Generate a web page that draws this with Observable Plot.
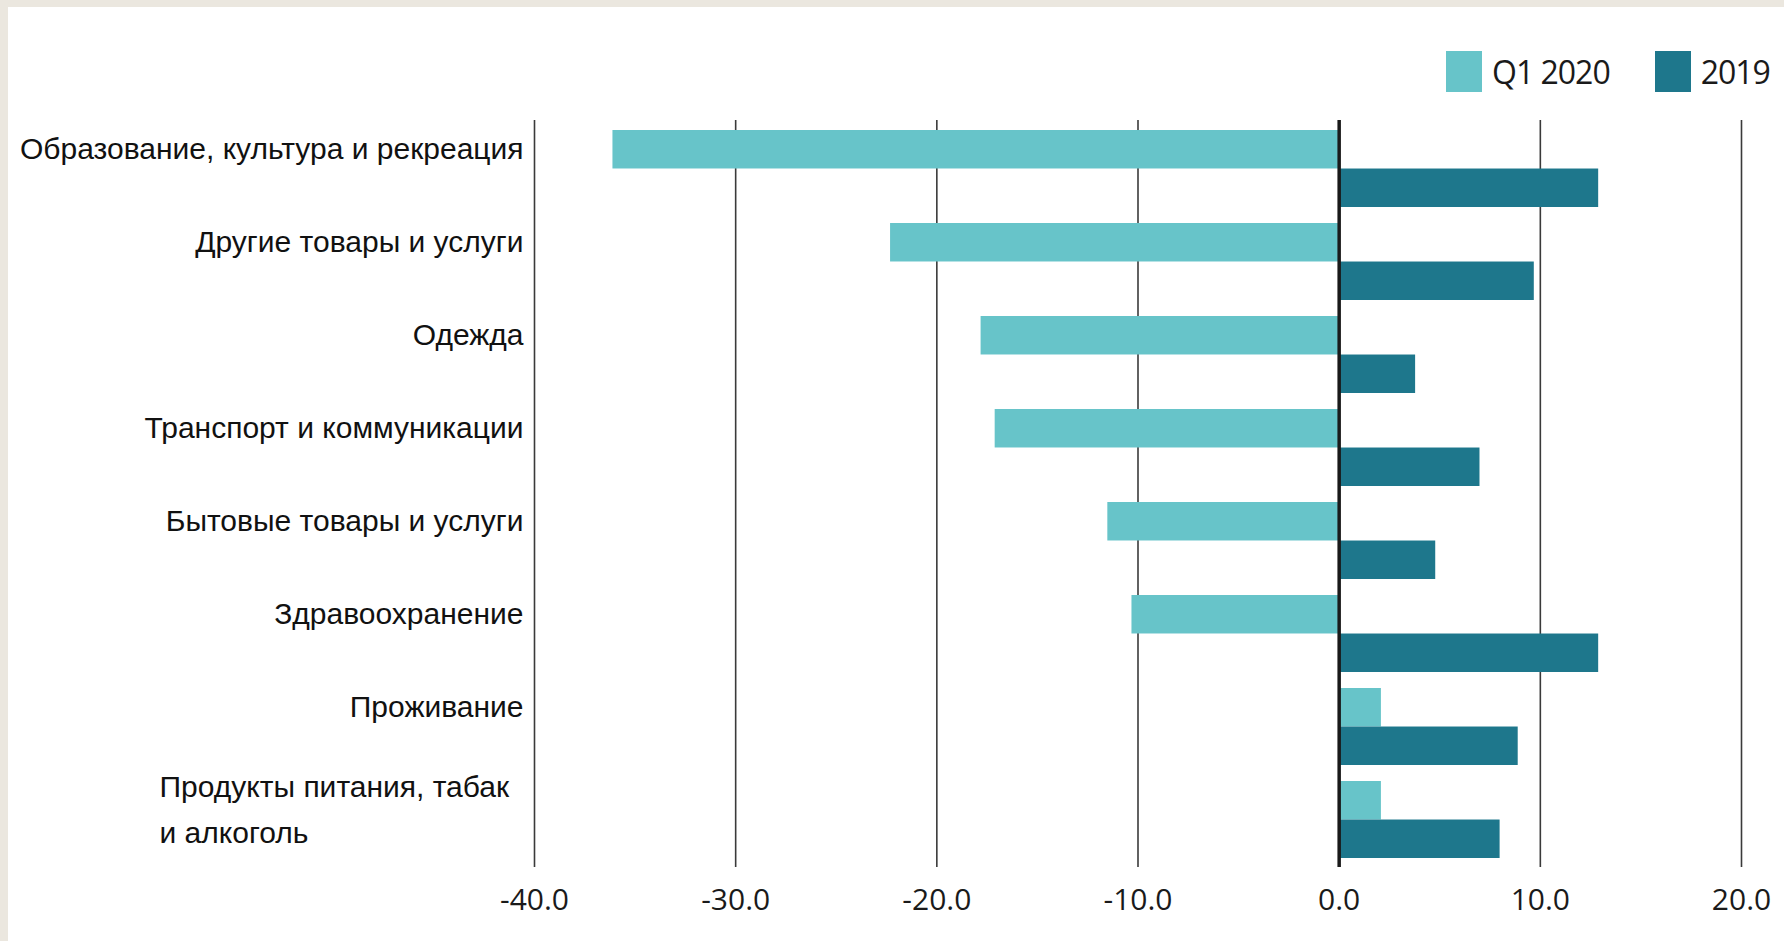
<!DOCTYPE html>
<html>
<head>
<meta charset="utf-8">
<script src="https://cdn.jsdelivr.net/npm/d3@7"></script>
<script src="https://cdn.jsdelivr.net/npm/@observablehq/plot@0.6"></script>
<style>
  html, body { margin: 0; padding: 0; }
  body { width: 1784px; height: 941px; background: #ebe7df; position: relative; overflow: hidden; }
  #panel { position: absolute; left: 8px; top: 7px; right: 0; bottom: 0; background: #ffffff; }
  #chart { position: absolute; left: 0; top: 0; }
  #chart svg { background: transparent; }
  .legend { position: absolute; top: 50px; left: 1446px; display: flex; align-items: center;
            font-family: "Open Sans", sans-serif; font-size: 32px; letter-spacing: -1px; color: #1a1a1a; }
  .legend .item { display: flex; align-items: center; }
  .legend .sw { width: 36px; height: 41px; margin-right: 10px; }
</style>
</head>
<body>
<div id="panel"></div>
<div id="chart"></div>
<div class="legend" id="legend"></div>
<script>
const categories = [
  "Образование, культура и рекреация",
  "Другие товары и услуги",
  "Одежда",
  "Транспорт и коммуникации",
  "Бытовые товары и услуги",
  "Здравоохранение",
  "Проживание",
  "Продукты питания, табак\nи алкоголь"
];
const seriesNames = ["Q1 2020", "2019"];
const q1_2020 = [-36.1, -22.3, -17.8, -17.1, -11.5, -10.3, 2.1, 2.1];
const y2019   = [12.9, 9.7, 3.8, 7.0, 4.8, 12.9, 8.9, 8.0];
const xTicks  = [-40, -30, -20, -10, 0, 10, 20];
const seriesColors = ["#67c4c9", "#1e778c"];

const rows = categories.map((c, i) => ({category: c, q1: q1_2020[i], y19: y2019[i]}));

const W = 1784, H = 941;
const marginTop = 120, marginBottom = 74, marginLeft = 534, marginRight = 43;
const yOpts = {type: "band", domain: categories, range: [marginTop, H - marginBottom], paddingInner: 0.175, paddingOuter: 0.0875};
const half = Plot.scale({y: yOpts}).bandwidth / 2;

const lastCat = categories[categories.length - 1];

const chart = Plot.plot({
  width: W,
  height: H,
  marginTop, marginBottom, marginLeft, marginRight,
  style: {background: "transparent", color: "#1a1a1a"},
  x: {domain: [-40, 20]},
  y: {domain: categories, paddingInner: 0.175, paddingOuter: 0.0875},
  marks: [
    Plot.ruleX(xTicks, {stroke: "#3a3a3a", strokeWidth: 1.6}),
    Plot.barX(rows, {y: "category", x: "q1", fill: seriesColors[0], insetBottom: half}),
    Plot.barX(rows, {y: "category", x: "y19", fill: seriesColors[1], insetTop: half}),
    Plot.ruleX([0], {stroke: "#1a1a1a", strokeWidth: 3.5}),
    Plot.axisX({
      ticks: xTicks, tickSize: 0, tickPadding: 21,
      tickFormat: d => d.toFixed(1),
      fontSize: 30, fontFamily: "Open Sans", letterSpacing: -1, fill: "#1a1a1a", label: null
    }),
    Plot.axisY({
      ticks: categories.slice(0, -1), tickSize: 0, tickPadding: 11, dy: -half / 2,
      fontSize: 30, fontFamily: "Liberation Sans, Arial, sans-serif", fill: "#111", label: null
    }),
    Plot.text([lastCat], {
      y: d => d, text: d => d, frameAnchor: "left", textAnchor: "start",
      dx: 159 - marginLeft, dy: -15, lineHeight: 1.55,
      fontSize: 30, fontFamily: "Liberation Sans, Arial, sans-serif", fill: "#111"
    })
  ]
});
document.getElementById("chart").appendChild(chart);

const legend = document.getElementById("legend");
seriesNames.forEach((name, i) => {
  const item = document.createElement("div");
  item.className = "item";
  item.style.marginRight = i === 0 ? "45px" : "0";
  const sw = document.createElement("div");
  sw.className = "sw";
  sw.style.background = seriesColors[i];
  const t = document.createElement("span");
  t.textContent = name;
  item.appendChild(sw);
  item.appendChild(t);
  legend.appendChild(item);
});
</script>
</body>
</html>
